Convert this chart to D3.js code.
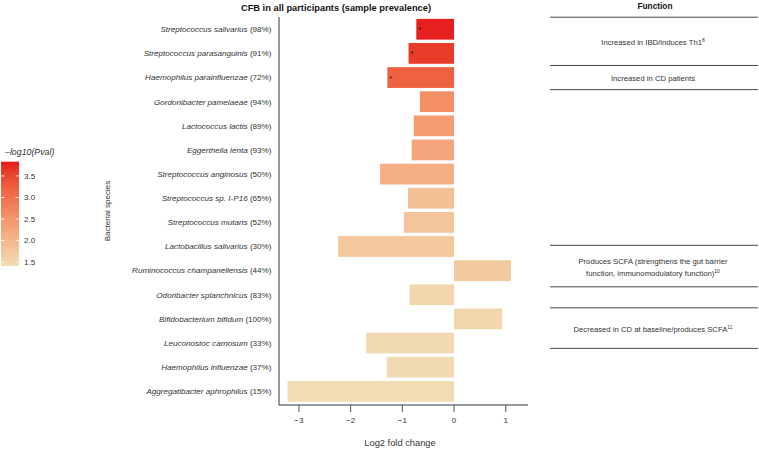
<!DOCTYPE html>
<html>
<head>
<meta charset="utf-8">
<script src="https://cdn.jsdelivr.net/npm/d3@7"></script>
<style>
  body { margin: 0; background: #fff; }
  svg text { font-family: "Liberation Sans", Arial, Helvetica, sans-serif; fill: #333; }
</style>
</head>
<body>
<div id="chart-container"></div>
<script>
// species, prevalence, log2 fold change, -log10(p)
var species = ["Streptococcus salivarius", "Streptococcus parasanguinis", "Haemophilus parainfluenzae",
  "Gordonibacter pamelaeae", "Lactococcus lactis", "Eggerthella lenta", "Streptococcus anginosus",
  "Streptococcus sp. I-P16", "Streptococcus mutans", "Lactobacillus salivarius",
  "Ruminococcus champanellensis", "Odoribacter splanchnicus", "Bifidobacterium bifidum",
  "Leuconostoc carnosum", "Haemophilus influenzae", "Aggregatibacter aphrophilus"];
var prevalence = [98, 91, 72, 94, 89, 93, 50, 65, 52, 30, 44, 83, 100, 33, 37, 15];
var log2fc = [-0.73, -0.88, -1.29, -0.66, -0.78, -0.82, -1.43, -0.89, -0.97, -2.24,
  1.10, -0.86, 0.93, -1.70, -1.30, -3.22];
var neglogp = [3.8, 3.6, 3.2, 2.6, 2.4, 2.25, 2.15, 1.85, 1.8, 1.75, 1.7, 1.5, 1.5, 1.45, 1.45, 1.42];
var significant = [true, true, true, false, false, false, false, false, false, false,
  false, false, false, false, false, false];
var x_ticks = [-3, -2, -1, 0, 1];
var legend_ticks = [1.5, 2.0, 2.5, 3.0, 3.5];

// function table: rows given in band units (start, end), lines of text, superscript
var func_rows = [
  {from: 0, to: 2, lines: ["Increased in IBD/induces Th1"], sup: "8"},
  {from: 2, to: 3, lines: ["Increased in CD patients"], sup: ""},
  {from: 9.45, to: 11.17, lines: ["Produces SCFA (strengthens the gut barrier", "function, immunomodulatory function)"], sup: "10"},
  {from: 11.17, to: 12.04, lines: [], sup: ""},
  {from: 12.04, to: 13.72, lines: ["Decreased in CD at baseline/produces SCFA"], sup: "11"}
];

var svg_width = 759, svg_height = 450;
var plot_left = 279, plot_right = 528, plot_top = 17, plot_bottom = 405;

var svg = d3.select("#chart-container")
  .append("svg")
  .attr("width", svg_width)
  .attr("height", svg_height);

var x = d3.scaleLinear()
  .domain([-3.385, 1.43])
  .range([plot_left, plot_right]);

var y = d3.scaleBand()
  .domain(d3.range(species.length))
  .range([17.2, 403.4])
  .paddingInner(0.14)
  .paddingOuter(0.07);

var step = (403.4 - 17.2) / species.length;
function band_y(v) { return 17.2 + v * step; }

var color_domain = [1.41, 3.83];
var color = d3.scaleLinear()
  .domain(color_domain)
  .range(["#f1ddb4", "#e41a1c"])
  .interpolate(d3.interpolateLab);

// bars
svg.selectAll(".bar")
  .data(log2fc)
  .enter()
  .append("rect")
  .attr("class", "bar")
  .attr("x", function(d) { return x(Math.min(0, d)); })
  .attr("y", function(d, i) { return y(i); })
  .attr("width", function(d) { return Math.abs(x(d) - x(0)); })
  .attr("height", y.bandwidth())
  .attr("fill", function(d, i) { return color(neglogp[i]); });

// significance stars
svg.selectAll(".star")
  .data(log2fc.map(function(d, i) { return {v: d, i: i}; }).filter(function(d) { return significant[d.i]; }))
  .enter()
  .append("text")
  .attr("class", "star")
  .attr("x", function(d) { return x(d.v) + 2; })
  .attr("y", function(d) { return y(d.i) + y.bandwidth() / 2 + 3; })
  .attr("font-size", "7.5px")
  .style("fill", "#1a1a1a")
  .text("*");

// y labels
var labels = svg.selectAll(".ylab")
  .data(species)
  .enter()
  .append("text")
  .attr("class", "ylab")
  .attr("x", plot_left - 7.5)
  .attr("y", function(d, i) { return y(i) + y.bandwidth() / 2; })
  .attr("dy", "0.35em")
  .attr("text-anchor", "end")
  .attr("font-size", "8.1px");
labels.append("tspan").attr("font-style", "italic").text(function(d) { return d; });
labels.append("tspan").text(function(d, i) { return " (" + prevalence[i] + "%)"; });

// axes lines
svg.append("line")
  .attr("x1", plot_left).attr("x2", plot_left)
  .attr("y1", plot_top).attr("y2", plot_bottom)
  .attr("stroke", "#333").attr("stroke-width", 1);
svg.append("line")
  .attr("x1", plot_left).attr("x2", plot_right)
  .attr("y1", plot_bottom).attr("y2", plot_bottom)
  .attr("stroke", "#333").attr("stroke-width", 1);

var xt = svg.selectAll(".xtick")
  .data(x_ticks)
  .enter()
  .append("g")
  .attr("class", "xtick")
  .attr("transform", function(d) { return "translate(" + x(d) + "," + plot_bottom + ")"; });
xt.append("line").attr("y1", 0).attr("y2", 7).attr("stroke", "#555").attr("stroke-width", 1);
xt.append("text")
  .attr("y", 17.5)
  .attr("text-anchor", "middle")
  .attr("font-size", "8px")
  .text(function(d) { return d < 0 ? "\u2212" + Math.abs(d) : d; });

svg.append("text")
  .attr("x", 400)
  .attr("y", 446)
  .attr("text-anchor", "middle")
  .attr("font-size", "9.3px")
  .text("Log2 fold change");

svg.append("text")
  .attr("transform", "translate(109.5," + 211 + ") rotate(-90)")
  .attr("text-anchor", "middle")
  .attr("font-size", "8px")
  .text("Bacterial species");

// title
svg.append("text")
  .attr("x", 336)
  .attr("y", 11)
  .attr("text-anchor", "middle")
  .attr("font-size", "9.3px")
  .attr("font-weight", "bold")
  .style("fill", "#111")
  .text("CFB in all participants (sample prevalence)");

// legend
var leg_top = 161.7, leg_bottom = 266, leg_x = 1, leg_w = 18;
var ly = d3.scaleLinear().domain(color_domain).range([leg_bottom, leg_top]);
var defs = svg.append("defs");
var grad = defs.append("linearGradient")
  .attr("id", "leg-grad")
  .attr("x1", 0).attr("y1", 1).attr("x2", 0).attr("y2", 0);
d3.range(0, 1.01, 0.1).forEach(function(t) {
  grad.append("stop")
    .attr("offset", t)
    .attr("stop-color", color(color_domain[0] + t * (color_domain[1] - color_domain[0])));
});
svg.append("rect")
  .attr("x", leg_x).attr("y", leg_top)
  .attr("width", leg_w).attr("height", leg_bottom - leg_top)
  .attr("fill", "url(#leg-grad)");
var lt = svg.selectAll(".ltick")
  .data(legend_ticks)
  .enter()
  .append("g")
  .attr("transform", function(d) { return "translate(0," + ly(d) + ")"; });
lt.append("line").attr("x1", leg_x).attr("x2", leg_x + 3.5).attr("stroke", "#fff").attr("stroke-width", 0.8);
lt.append("line").attr("x1", leg_x + leg_w - 3.5).attr("x2", leg_x + leg_w).attr("stroke", "#fff").attr("stroke-width", 0.8);
lt.append("text")
  .attr("x", leg_x + leg_w + 5)
  .attr("dy", "0.35em")
  .attr("font-size", "8px")
  .text(function(d) { return d.toFixed(1); });
svg.append("text")
  .attr("x", 5)
  .attr("y", 154.5)
  .attr("font-size", "8.8px")
  .attr("font-style", "italic")
  .text("\u2013log10(Pval)");

// function table
var tab_left = 550, tab_right = 758, tab_mid = 653;
svg.append("text")
  .attr("x", 655)
  .attr("y", 9)
  .attr("text-anchor", "middle")
  .attr("font-size", "8.3px")
  .attr("font-weight", "bold")
  .style("fill", "#111")
  .text("Function");

var bounds = [];
func_rows.forEach(function(r) { bounds.push(r.from, r.to); });
svg.selectAll(".tline")
  .data(bounds.filter(function(d, i, a) { return a.indexOf(d) === i; }))
  .enter()
  .append("line")
  .attr("x1", tab_left).attr("x2", tab_right)
  .attr("y1", function(d) { return band_y(d); })
  .attr("y2", function(d) { return band_y(d); })
  .attr("stroke", "#333").attr("stroke-width", 0.9);

func_rows.forEach(function(r) {
  var cy = (band_y(r.from) + band_y(r.to)) / 2 + 1;
  var n = r.lines.length;
  r.lines.forEach(function(line, k) {
    var t = svg.append("text")
      .attr("x", tab_mid)
      .attr("y", cy + (k - (n - 1) / 2) * 11.5)
      .attr("dy", "0.35em")
      .attr("text-anchor", "middle")
      .attr("font-size", "7.7px")
      .text(line);
    if (k === n - 1 && r.sup) {
      t.append("tspan").attr("font-size", "5px").attr("dy", "-0.6em").text(r.sup);
    }
  });
});
</script>
</body>
</html>
